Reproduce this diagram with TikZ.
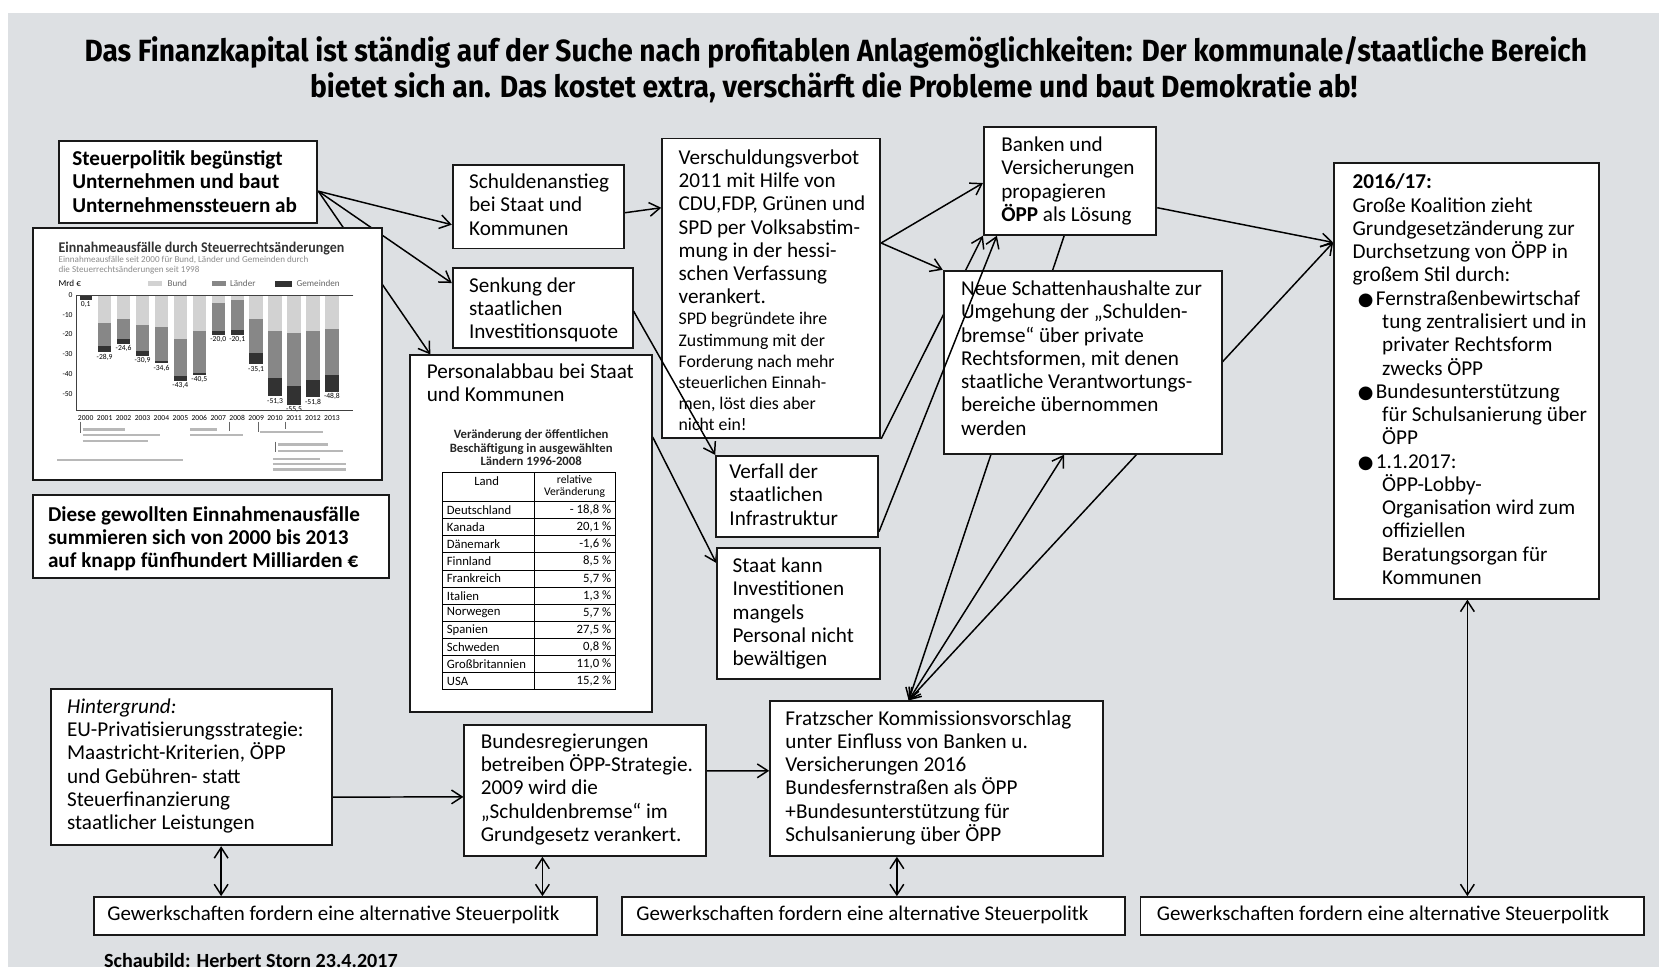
\documentclass[tikz,border=0pt]{standalone}
\usepackage{fontspec}
\setmainfont{Carlito}
\newfontfamily\ttlfont{Fira Sans}
\newfontfamily\symfnt{DejaVu Sans}
\usepackage{graphicx}
\usetikzlibrary{arrows.meta,calc}
\pgfdeclarelayer{back}
\pgfdeclarelayer{lines}
\pgfdeclarelayer{front}
\pgfsetlayers{back,lines,main,front}
\definecolor{bgc}{RGB}{221,224,227}
\definecolor{bundc}{RGB}{210,210,210}
\definecolor{laenderc}{RGB}{135,135,135}
\definecolor{gemc}{RGB}{50,50,50}
\newcommand\mybul{\hspace*{2.5pt}\makebox[8.5pt][l]{\symfnt\fontsize{8.5}{8.5}\selectfont ●}}
\newcommand\myind{\hspace*{14pt}}
\begin{document}
\begin{tikzpicture}[x=0.5pt,y=-0.5pt,
  bx/.style={draw=black!90, line width=0.9pt, fill=white, inner sep=0pt, anchor=north west},
  tx/.style={anchor=north west, inner sep=0pt, align=left, font=\fontsize{10}{11}\selectfont},
  txb/.style={anchor=north west, inner sep=0pt, align=left, font=\fontsize{10}{11}\selectfont\bfseries},
  gtx/.style={anchor=west, inner sep=0pt, font=\fontsize{9.9}{11}\selectfont},
  con/.style={line width=0.7pt, draw=black},
  tiny/.style={inner sep=0pt, font=\fontsize{3.6}{3.6}\selectfont},
  ttx/.style={inner sep=0pt, font=\fontsize{6}{6}\selectfont},
  blur/.style={line width=1.1pt, draw=black!28},
  >={Straight Barb[length=5pt,width=6.5pt]}
]
\begin{pgfonlayer}{back}
\fill[white] (0,0) rectangle (1568,914);
\fill[bgc] (8,12) rectangle (1568,914);
\end{pgfonlayer}
\useasboundingbox (0,0) rectangle (1568,914);

% title
\node[anchor=base, inner sep=0pt, font=\ttlfont\bfseries\fontsize{14.5}{17}\selectfont] (title1) at (790,58)
 {\resizebox{710pt}{\height}{Das Finanzkapital ist ständig auf der Suche nach profitablen Anlagemöglichkeiten: Der kommunale/staatliche Bereich}};
\node[anchor=base, inner sep=0pt, font=\ttlfont\bfseries\fontsize{14.5}{17}\selectfont] (title2) at (788,92)
 {\resizebox{495pt}{\height}{bietet sich an. Das kostet extra, verschärft die Probleme und baut Demokratie ab!}};

% boxes
\node[bx, minimum width=122pt, minimum height=39pt] (steuer) at (55,132) {};
\node[bx, minimum width=165pt, minimum height=119pt] (chart) at (30,215) {};
\node[bx, minimum width=168.5pt, minimum height=39pt] (summe) at (30,467) {};
\node[bx, minimum width=81pt, minimum height=39.5pt] (schulden) at (427,155) {};
\node[bx, minimum width=85pt, minimum height=38pt] (senkung) at (427,252) {};
\node[bx, minimum width=114pt, minimum height=168.5pt] (personal) at (387,335) {};
\node[bx, minimum width=103pt, minimum height=141.5pt] (verschuldung) at (625,130) {};
\node[bx, minimum width=76.5pt, minimum height=38.5pt] (verfall) at (676,430) {};
\node[bx, minimum width=77pt, minimum height=62pt] (staat) at (677,517) {};
\node[bx, minimum width=81.5pt, minimum height=51pt] (banken) at (929,119) {};
\node[bx, minimum width=131.5pt, minimum height=86.5pt] (neue) at (891,255) {};
\node[bx, minimum width=125pt, minimum height=206pt] (b2016) at (1260,153) {};
\node[bx, minimum width=133pt, minimum height=74pt] (hinter) at (47,650) {};
\node[bx, minimum width=114pt, minimum height=62pt] (bund) at (438,684) {};
\node[bx, minimum width=157.5pt, minimum height=73pt] (fratz) at (727,662) {};
\node[bx, minimum width=237.5pt, minimum height=18pt] (g1) at (88,847) {};
\node[bx, minimum width=237.5pt, minimum height=18pt] (g2) at (587,847) {};
\node[bx, minimum width=238pt, minimum height=18pt] (g3) at (1077,847) {};

% texts
\node[txb] (steuert) at (68,142) {Steuerpolitik begünstigt\\Unternehmen und baut\\Unternehmenssteuern ab};
\node[txb] (summet) at (45,478) {Diese gewollten Einnahmenausfälle\\summieren sich von 2000 bis 2013\\auf knapp fünfhundert Milliarden €};
\node[tx] (schuldent) at (443,164) {Schuldenanstieg\\bei Staat und\\Kommunen};
\node[tx] (senkungt) at (443,262) {Senkung der\\staatlichen\\Investitionsquote};
\node[tx] (personalt) at (403,343) {Personalabbau bei Staat\\und Kommunen};
\node[tx] (verschuldungt) at (641,141) {Verschuldungsverbot\\2011 mit Hilfe von\\CDU,FDP, Grünen und\\SPD per Volksabstim-\\mung in der hessi-\\schen Verfassung\\verankert.};
\node[tx, font=\fontsize{8.4}{10}\selectfont] (verschuldungs) at (641,295) {SPD begründete ihre\\Zustimmung mit der\\Forderung nach mehr\\steuerlichen Einnah-\\men, löst dies aber\\nicht ein!};
\node[tx] (verfallt) at (689,438) {Verfall der\\staatlichen\\Infrastruktur};
\node[tx] (staatt) at (692,527) {Staat kann\\Investitionen\\mangels\\Personal nicht\\bewältigen};
\node[tx] (bankent) at (946,129) {Banken und\\Versicherungen\\propagieren\\\textbf{ÖPP} als Lösung};
\node[tx] (neuet) at (908,265) {Neue Schattenhaushalte zur\\Umgehung der „Schulden-\\bremse“ über private\\Rechtsformen, mit denen\\staatliche Verantwortungs-\\bereiche übernommen\\werden};
\node[tx] (t2016) at (1278,164) {\textbf{2016/17:}\\
Große Koalition zieht\\
Grundgesetzänderung zur\\
Durchsetzung von ÖPP in\\
großem Stil durch:\\
\mybul Fernstraßenbewirtschaf\\
\myind tung zentralisiert und in\\
\myind privater Rechtsform\\
\myind zwecks ÖPP\\
\mybul Bundesunterstützung\\
\myind für Schulsanierung über\\
\myind ÖPP\\
\mybul 1.1.2017:\\
\myind ÖPP-Lobby-\\
\myind Organisation wird zum\\
\myind offiziellen\\
\myind Beratungsorgan für\\
\myind Kommunen};
\node[tx] (hintert) at (63,660) {\textit{Hintergrund:}\\EU-Privatisierungsstrategie:\\Maastricht-Kriterien, ÖPP\\und Gebühren- statt\\Steuerfinanzierung\\staatlicher Leistungen};
\node[tx] (bundt) at (454,693) {Bundesregierungen\\betreiben ÖPP-Strategie.\\2009 wird die\\„Schuldenbremse“ im\\Grundgesetz verankert.};
\node[tx] (fratzt) at (742,671) {Fratzscher Kommissionsvorschlag\\unter Einfluss von Banken u.\\Versicherungen 2016\\Bundesfernstraßen als ÖPP\\+Bundesunterstützung für\\Schulsanierung über ÖPP};
\node[gtx] (g1t) at (101,865) {Gewerkschaften fordern eine alternative Steuerpolitk};
\node[gtx] (g2t) at (601,865) {Gewerkschaften fordern eine alternative Steuerpolitk};
\node[gtx] (g3t) at (1093,865) {Gewerkschaften fordern eine alternative Steuerpolitk};
\node[anchor=north west, inner sep=0pt, font=\fontsize{9.5}{11}\selectfont\bfseries] (foot) at (98,901) {Schaubild: Herbert Storn 23.4.2017};

% table in personal box
\node[anchor=north, inner sep=0pt, align=center, font=\fontsize{6}{6.25}\selectfont\bfseries, text=black!85] (tabt) at (502,406)
 {Veränderung der öffentlichen\\Beschäftigung in ausgewählten\\Ländern 1996-2008};
\draw[line width=0.5pt] (418,447) rectangle (582,652);
\draw[line width=0.5pt] (505,447) -- (505,652);
\draw[line width=0.5pt] (418,474) -- (582,474);
\foreach \k in {1,...,10} \draw[line width=0.4pt] (418,{474+16.18*\k}) -- (582,{474+16.18*\k});
\node[ttx] (th1) at (460,455) {Land};
\node[ttx, align=center, font=\fontsize{5.5}{5.5}\selectfont] (th2) at (543,460) {relative\\Veränderung};
\node[ttx, anchor=west] (c1) at (422,482.1) {Deutschland};
\node[ttx, anchor=west] (c2) at (422,498.3) {Kanada};
\node[ttx, anchor=west] (c3) at (422,514.4) {Dänemark};
\node[ttx, anchor=west] (c4) at (422,530.6) {Finnland};
\node[ttx, anchor=west] (c5) at (422,546.8) {Frankreich};
\node[ttx, anchor=west] (c6) at (422,563.0) {Italien};
\node[ttx, anchor=west] (c7) at (422,579.2) {Norwegen};
\node[ttx, anchor=west] (c8) at (422,595.4) {Spanien};
\node[ttx, anchor=west] (c9) at (422,611.5) {Schweden};
\node[ttx, anchor=west] (c10) at (422,627.7) {Großbritannien};
\node[ttx, anchor=west] (c11) at (422,643.9) {USA};
\node[ttx, anchor=east] (v1) at (578,482.1) {- 18,8 \%};
\node[ttx, anchor=east] (v2) at (578,498.3) {20,1 \%};
\node[ttx, anchor=east] (v3) at (578,514.4) {-1,6 \%};
\node[ttx, anchor=east] (v4) at (578,530.6) {8,5 \%};
\node[ttx, anchor=east] (v5) at (578,546.8) {5,7 \%};
\node[ttx, anchor=east] (v6) at (578,563.0) {1,3 \%};
\node[ttx, anchor=east] (v7) at (578,579.2) {5,7 \%};
\node[ttx, anchor=east] (v8) at (578,595.4) {27,5 \%};
\node[ttx, anchor=east] (v9) at (578,611.5) {0,8 \%};
\node[ttx, anchor=east] (v10) at (578,627.7) {11,0 \%};
\node[ttx, anchor=east] (v11) at (578,643.9) {15,2 \%};

% chart
\node[anchor=west, inner sep=0pt, font=\fontsize{7}{7}\selectfont\bfseries, text=black!80] (ct) at (55,235)
 {\resizebox{135pt}{\height}{Einnahmeausfälle durch Steuerrechtsänderungen}};
\node[anchor=west, inner sep=0pt, font=\fontsize{4.3}{4.3}\selectfont, text=black!45] (cs1) at (55,246)
 {Einnahmeausfälle seit 2000 für Bund, Länder und Gemeinden durch};
\node[anchor=west, inner sep=0pt, font=\fontsize{4.3}{4.3}\selectfont, text=black!45] (cs2) at (55,255)
 {die Steuerrechtsänderungen seit 1998};
\node[tiny, anchor=west, font=\fontsize{4.3}{4.3}\selectfont] (cm) at (55,268) {Mrd €};
\fill[bundc] (140,266) rectangle (153,270.5);
\node[tiny, anchor=west, font=\fontsize{4.3}{4.3}\selectfont, text=black!60] (lg1) at (158,268) {Bund};
\fill[laenderc] (200,266) rectangle (214,270.5);
\node[tiny, anchor=west, font=\fontsize{4.3}{4.3}\selectfont, text=black!60] (lg2) at (217,268) {Länder};
\fill[gemc] (260,265.5) rectangle (276,271);
\node[tiny, anchor=west, font=\fontsize{4.3}{4.3}\selectfont, text=black!60] (lg3) at (280,268) {Gemeinden};
\foreach \i/\b/\l/\g in {1/14/26/28.9, 2/12/22.5/24.6, 3/15/28.5/30.9, 4/16/33.5/34.6, 5/22/41/43.4, 6/18/39.5/40.5, 7/4/18/20.0, 8/2.5/17.5/20.1, 9/12/29.4/35.1, 10/18/42/51.3, 11/19/46/55.5, 12/18/43/51.8, 13/17/40.5/48.8}{
  \pgfmathsetmacro\xc{81+17.9*\i}
  \fill[bundc] ({\xc-6.3},278.8) rectangle ({\xc+6.3},{278.8+1.87*\b});
  \fill[laenderc] ({\xc-6.3},{278.8+1.87*\b}) rectangle ({\xc+6.3},{278.8+1.87*\l});
  \fill[gemc] ({\xc-6.3},{278.8+1.87*\l}) rectangle ({\xc+6.3},{278.8+1.87*\g});
  \node[tiny] (bl\i) at (\xc,{278.8+1.87*\g+4.5}) {-\pgfmathprintnumber[fixed,precision=1,fixed zerofill,use comma,assume math mode=true]{\g}};
}
\fill[gemc] (75.5,280) rectangle (86.5,283.5);
\node[tiny] (bl0) at (81,288) {0,1};
\draw[black!75, line width=0.4pt] (334,278.8) -- (72.5,278.8) -- (72.5,387.5) -- (334,387.5);
\foreach \v [count=\n] in {0,10,20,30,40,50}
  \node[tiny, anchor=east] (yl\n) at (69,{278.8+1.87*\v}) {\ifnum\v=0 0\else -\v\fi};
\foreach \i in {0,...,13}{
  \pgfmathtruncatemacro\yr{2000+\i}
  \node[tiny] (yr\i) at ({81+17.9*\i},395) {\yr};
}
\draw[black!60, line width=0.3pt] (75.6,398.5) -- (75.6,409.5) (216.7,398.5) -- (216.7,407.7)
  (244,398.5) -- (244,408) (269.7,398.5) -- (269.7,405) (260,417.5) -- (260,427);
\draw[blur] (78,405.8) -- (118,405.8) (78,411) -- (151,411) (78,416.5) -- (140,416.5)
  (180,405.8) -- (205,405.8) (180,411) -- (230,411)
  (246,408) -- (305,408)
  (263,420) -- (310,420) (263,426) -- (324,426)
  (54,434.5) -- (173,434.5)
  (258,433.6) -- (302,433.6) (258,438.6) -- (327,438.6) (258,443.6) -- (327,443.6);

% connectors (behind boxes)
\begin{pgfonlayer}{lines}
\coordinate (sf) at ($(steuer.north east)!0.61!(steuer.south east)$);
\draw[con,->] (sf) -- ($(schulden.north west)!0.71!(schulden.south west)$);
\draw[con,->] (sf) -- ($(senkung.north west)!0.2!(senkung.south west)$);
\draw[con,->] (sf) -- ($(personal.north west)!0.086!(personal.north east)$);
\draw[con,->] ($(schulden.north east)!0.57!(schulden.south east)$) -- ($(verschuldung.north west)!0.233!(verschuldung.south west)$);
\coordinate (vr) at ($(verschuldung.north east)!0.35!(verschuldung.south east)$);
\draw[con,->] (vr) -- ($(banken.north west)!0.52!(banken.south west)$);
\draw[con,->] (vr) -- (neue.north west);
\draw[con,->] ($(personal.north east)!0.23!(personal.south east)$) -- ($(staat.north west)!0.12!(staat.south west)$);
\draw[con,->] (verschuldung.south east) -- (banken.south west);
\coordinate (b2l) at ($(b2016.north west)!0.184!(b2016.south west)$);
\draw[con,->] ($(banken.north east)!0.745!(banken.south east)$) -- (b2l);
\coordinate (ft) at ($(fratz.north west)!0.416!(fratz.north east)$);
\draw[con,->] ($(banken.south west)!0.466!(banken.south east)$) -- (ft);
\draw[con,<->] (ft) -- ($(neue.south west)!0.433!(neue.south east)$);
\draw[con,<->] (ft) -- (b2l);
\draw[con,->] ($(hinter.north east)!0.69!(hinter.south east)$) -- ($(bund.north west)!0.55!(bund.south west)$);
\draw[con,->] ($(bund.north east)!0.355!(bund.south east)$) -- ($(fratz.north west)!0.45!(fratz.south west)$);
\coordinate (hb) at ($(hinter.south west)!0.605!(hinter.south east)$);
\draw[con,<->] (hb) -- (hb |- g1.north);
\coordinate (bb) at ($(bund.south west)!0.325!(bund.south east)$);
\draw[con,<->] (bb) -- (bb |- g1.north);
\coordinate (fb) at ($(fratz.south west)!0.381!(fratz.south east)$);
\draw[con,<->] (fb) -- (fb |- g2.north);
\coordinate (zb) at ($(b2016.south west)!0.504!(b2016.south east)$);
\draw[con,<->] (zb) -- (zb |- g3.north);
\end{pgfonlayer}
% connectors drawn over boxes
\begin{pgfonlayer}{front}
\draw[con,->] ($(senkung.north east)!0.54!(senkung.south east)$) -- (verfall.north west);
\draw[con,->] ($(verfall.north east)!0.92!(verfall.south east)$) -- ($(banken.south west)!0.08!(banken.south east)$);
\end{pgfonlayer}
\end{tikzpicture}
\end{document}
